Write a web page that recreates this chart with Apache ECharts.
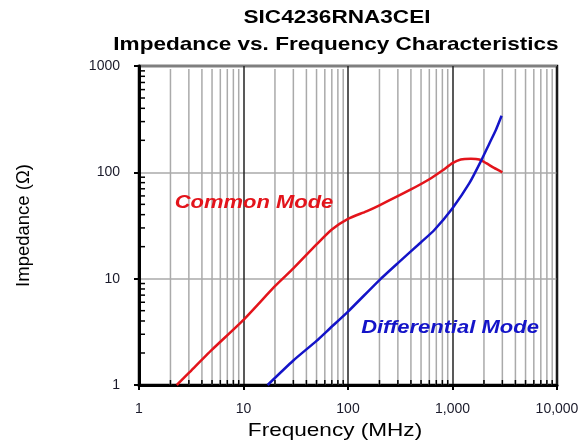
<!DOCTYPE html>
<html>
<head>
<meta charset="utf-8">
<script src="https://cdn.jsdelivr.net/npm/echarts@6/dist/echarts.min.js"></script>
<style>
  html, body { margin: 0; padding: 0; background: #fff; }
  #chart { width: 584px; height: 444px; }
</style>
</head>
<body>
<div id="chart"></div>
<script>
// impedance curves (MHz, ohm)
const commonFreq = [2.3, 3, 5, 10, 20, 30, 50, 70, 100, 150, 200, 400, 600, 800, 1000, 1200, 1500, 1800, 2100, 2500, 3000]
const commonZ = [1.0, 1.3, 2.15, 4.1, 8.5, 12.5, 21, 29, 36.5, 43, 49, 69, 86, 104, 122, 132, 134, 132, 122, 110, 100]

const diffFreq = [17, 30, 50, 67, 100, 200, 300, 500, 670, 1000, 1450, 1860, 2260, 2600, 2950]
const diffZ = [1.0, 1.7, 2.6, 3.4, 4.9, 9.7, 14, 22, 28.7, 46, 79, 126, 188, 250, 340]

const xTickLabels = { 1: '1', 10: '10', 100: '100', 1000: '1,000', 10000: '10,000' }
const yTickLabels = { 1: '1', 10: '10', 100: '100', 1000: '1000' }

// 2..9 inside every decade
const xDecades = [1, 10, 100, 1000]
const yDecades = [1, 10, 100]
const minors = function (decades) {
  const out = []
  decades.forEach(function (d) {
    for (let k = 2; k <= 9; k++) out.push(d * k)
  })
  return out
}
const xMinor = minors(xDecades)
const yMinor = minors(yDecades)

const FONT = '"Liberation Sans", Arial, sans-serif'
const RED = '#e3141b'
const BLUE = '#1414c8'
const STRETCH = 1.22 // the source picture is a bit wider than tall

function pairs(xs, ys) {
  return xs.map(function (x, i) { return [x, ys[i]] })
}

function wideText(text, x, y, font, fill) {
  return {
    type: 'text',
    x: x,
    y: y,
    scaleX: STRETCH,
    z: 10,
    silent: true,
    style: { text: text, font: font, fill: fill, align: 'center', verticalAlign: 'middle' }
  }
}

const chart = echarts.init(document.getElementById('chart'))

chart.setOption({
  animation: false,
  backgroundColor: '#fff',
  grid: {
    left: 139,
    top: 66,
    right: 27,
    bottom: 59,
    show: true,
    borderColor: '#000',
    borderWidth: 2.5,
    backgroundColor: 'transparent'
  },
  xAxis: {
    type: 'log',
    logBase: 10,
    min: 1,
    max: 10000,
    axisLine: { lineStyle: { color: '#000', width: 3 } },
    axisTick: { length: 5, lineStyle: { color: '#000', width: 2 } },
    axisLabel: {
      margin: 17,
      fontFamily: FONT,
      fontSize: 14,
      color: '#1a1a2a',
      formatter: function (v) { return xTickLabels[Math.round(v)] || '' }
    },
    splitLine: { show: true, lineStyle: { color: '#222', width: 1.5 } }
  },
  yAxis: {
    type: 'log',
    logBase: 10,
    min: 1,
    max: 1000,
    name: 'Impedance (Ω)',
    nameLocation: 'middle',
    nameGap: 106,
    nameTextStyle: { fontFamily: FONT, fontSize: 18.5, color: '#000' },
    axisLine: { lineStyle: { color: '#000', width: 3 } },
    axisTick: { length: 5, lineStyle: { color: '#000', width: 2 } },
    axisLabel: {
      margin: 19,
      fontFamily: FONT,
      fontSize: 14,
      color: '#1a1a2a',
      formatter: function (v) { return yTickLabels[Math.round(v)] || '' }
    },
    splitLine: { show: true, lineStyle: { color: '#aaa', width: 1.5 } }
  },
  series: [
    {
      // minor vertical grid lines and inner ticks on the bottom axis
      type: 'custom',
      z: 1,
      silent: true,
      data: xMinor.map(function (v) { return [v, 1] }),
      renderItem: function (params, api) {
        const v = api.value(0)
        const bot = api.coord([v, 1])
        const top = api.coord([v, 1000])
        return {
          type: 'group',
          children: [
            {
              type: 'line',
              shape: { x1: bot[0], y1: bot[1], x2: top[0], y2: top[1] + 3 },
              style: { stroke: '#aaa', lineWidth: 1.5 }
            },
            {
              type: 'line',
              shape: { x1: bot[0], y1: bot[1], x2: bot[0], y2: bot[1] - 5 },
              style: { stroke: '#000', lineWidth: 1.5 }
            }
          ]
        }
      }
    },
    {
      // minor inner ticks on the left axis
      type: 'custom',
      z: 3,
      silent: true,
      data: yMinor.map(function (v) { return [1, v] }),
      renderItem: function (params, api) {
        const p = api.coord([1, api.value(1)])
        return {
          type: 'line',
          shape: { x1: p[0], y1: p[1], x2: p[0] + 6, y2: p[1] },
          style: { stroke: '#000', lineWidth: 1.5 }
        }
      }
    },
    {
      name: 'Common Mode',
      type: 'line',
      z: 4,
      smooth: 0.2,
      showSymbol: false,
      data: pairs(commonFreq, commonZ),
      lineStyle: { color: RED, width: 2.5 }
    },
    {
      name: 'Differential Mode',
      type: 'line',
      z: 4,
      smooth: 0.2,
      showSymbol: false,
      data: pairs(diffFreq, diffZ),
      lineStyle: { color: BLUE, width: 2.5 }
    }
  ],
  graphic: [
    wideText('SIC4236RNA3CEI', 337, 18, 'bold 18.5px ' + FONT, '#000'),
    wideText('Impedance vs. Frequency Characteristics', 336, 45, 'bold 18.5px ' + FONT, '#000'),
    wideText('Frequency (MHz)', 335, 431, '18.5px ' + FONT, '#000'),
    wideText('Common Mode', 254, 203, 'italic bold 18px ' + FONT, RED),
    wideText('Differential Mode', 450, 328, 'italic bold 18px ' + FONT, BLUE)
  ]
})
</script>
</body>
</html>
